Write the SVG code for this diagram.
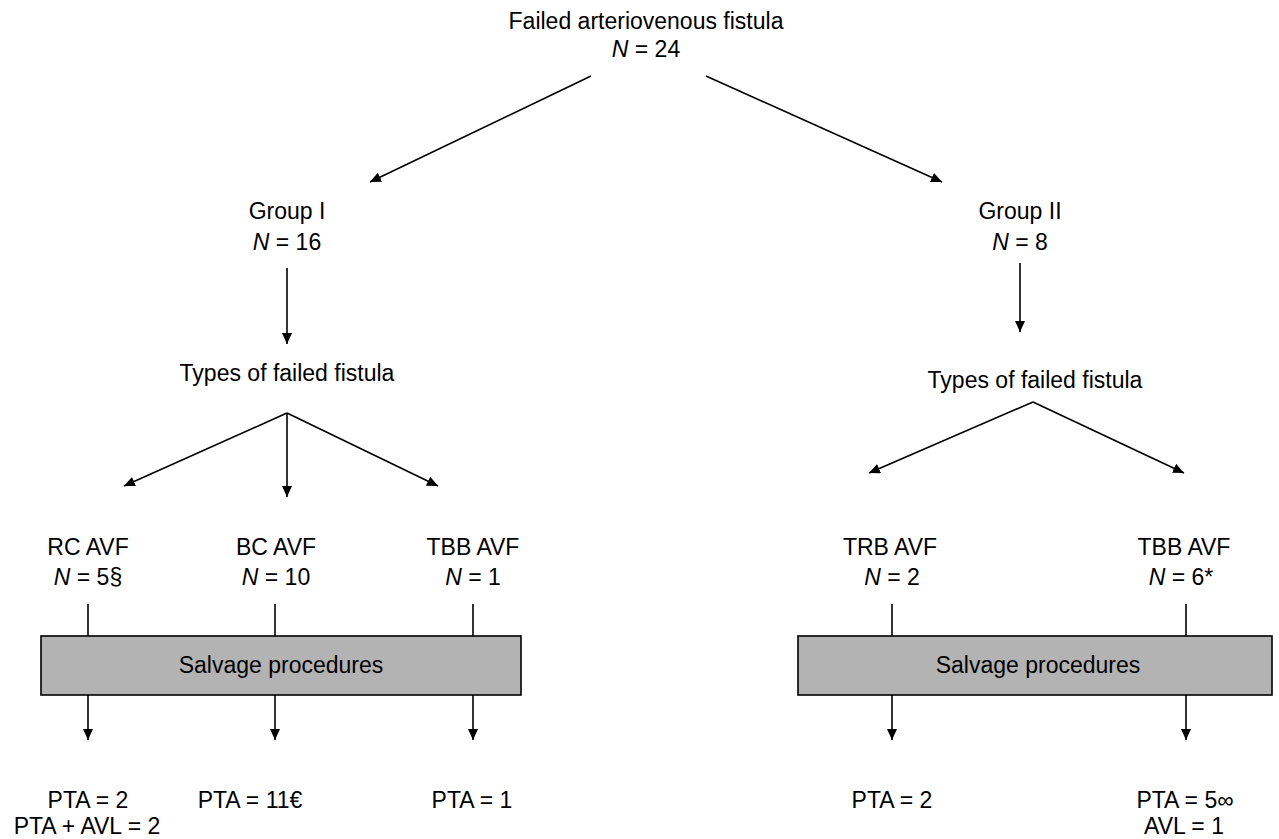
<svg xmlns="http://www.w3.org/2000/svg" width="1279" height="839" viewBox="0 0 1279 839">
<style>
text{font-family:"Liberation Sans",Arial,Helvetica,sans-serif;font-size:23px;fill:#000;text-anchor:middle}
.i{font-style:italic}
.c line{stroke:#000;stroke-width:1.6}
.a{marker-end:url(#ah)}
.box{fill:#b3b3b3;stroke:#000;stroke-width:1.6}
</style>
<defs>
<marker id="ah" markerUnits="userSpaceOnUse" markerWidth="11" markerHeight="10" refX="11" refY="5" orient="auto">
<path d="M0,0 L11,5 L0,10 z" fill="#000"/>
</marker>
</defs>
<rect width="1279" height="839" fill="#fff"/>
<g class="c" id="connectors">
<line class="a" x1="591" y1="76" x2="370" y2="182"/>
<line class="a" x1="706" y1="76" x2="942" y2="182"/>
<line class="a" x1="287" y1="268" x2="287" y2="344"/>
<line class="a" x1="1020" y1="263" x2="1020" y2="332"/>
<line class="a" x1="287" y1="413" x2="124" y2="486"/>
<line class="a" x1="287" y1="413" x2="287" y2="497"/>
<line class="a" x1="287" y1="413" x2="438" y2="486"/>
<line class="a" x1="1033" y1="402" x2="869" y2="473"/>
<line class="a" x1="1033" y1="402" x2="1184" y2="473"/>
<line x1="88" y1="604" x2="88" y2="636"/>
<line x1="275" y1="604" x2="275" y2="636"/>
<line x1="473" y1="604" x2="473" y2="636"/>
<line x1="892" y1="604" x2="892" y2="636"/>
<line x1="1186" y1="604" x2="1186" y2="636"/>
<line class="a" x1="88" y1="695" x2="88" y2="740"/>
<line class="a" x1="275" y1="695" x2="275" y2="740"/>
<line class="a" x1="473" y1="695" x2="473" y2="740"/>
<line class="a" x1="892" y1="695" x2="892" y2="740"/>
<line class="a" x1="1186" y1="695" x2="1186" y2="740"/>
</g>
<g id="root">
<text x="646" y="29">Failed arteriovenous fistula</text>
<text x="646" y="57"><tspan class="i">N</tspan> = 24</text>
</g>
<g id="group1">
<text x="287" y="219">Group I</text>
<text x="287" y="250"><tspan class="i">N</tspan> = 16</text>
</g>
<g id="group2">
<text x="1020" y="219">Group II</text>
<text x="1020" y="250"><tspan class="i">N</tspan> = 8</text>
</g>
<g id="types1"><text x="287" y="381">Types of failed fistula</text></g>
<g id="types2"><text x="1035" y="388">Types of failed fistula</text></g>
<g id="rc">
<text x="88" y="555">RC AVF</text>
<text x="88" y="585"><tspan class="i">N</tspan> = 5§</text>
</g>
<g id="bc">
<text x="276" y="555">BC AVF</text>
<text x="276" y="585"><tspan class="i">N</tspan> = 10</text>
</g>
<g id="tbb1">
<text x="473" y="555">TBB AVF</text>
<text x="473" y="585"><tspan class="i">N</tspan> = 1</text>
</g>
<g id="trb">
<text x="890" y="555">TRB AVF</text>
<text x="892" y="585"><tspan class="i">N</tspan> = 2</text>
</g>
<g id="tbb2">
<text x="1184" y="555">TBB AVF</text>
<text x="1181" y="585"><tspan class="i">N</tspan> = 6*</text>
</g>
<g id="salvage1">
<rect class="box" x="41" y="636" width="480" height="59"/>
<text x="281" y="673">Salvage procedures</text>
</g>
<g id="salvage2">
<rect class="box" x="798" y="636" width="474" height="59"/>
<text x="1038" y="673">Salvage procedures</text>
</g>
<g id="out-rc">
<text x="88" y="808">PTA = 2</text>
<text x="87" y="834">PTA + AVL = 2</text>
</g>
<g id="out-bc"><text x="250" y="808">PTA = 11€</text></g>
<g id="out-tbb1"><text x="472" y="808">PTA = 1</text></g>
<g id="out-trb"><text x="892" y="808">PTA = 2</text></g>
<g id="out-tbb2">
<text x="1185" y="808">PTA = 5∞</text>
<text x="1184" y="834">AVL = 1</text>
</g>
</svg>
